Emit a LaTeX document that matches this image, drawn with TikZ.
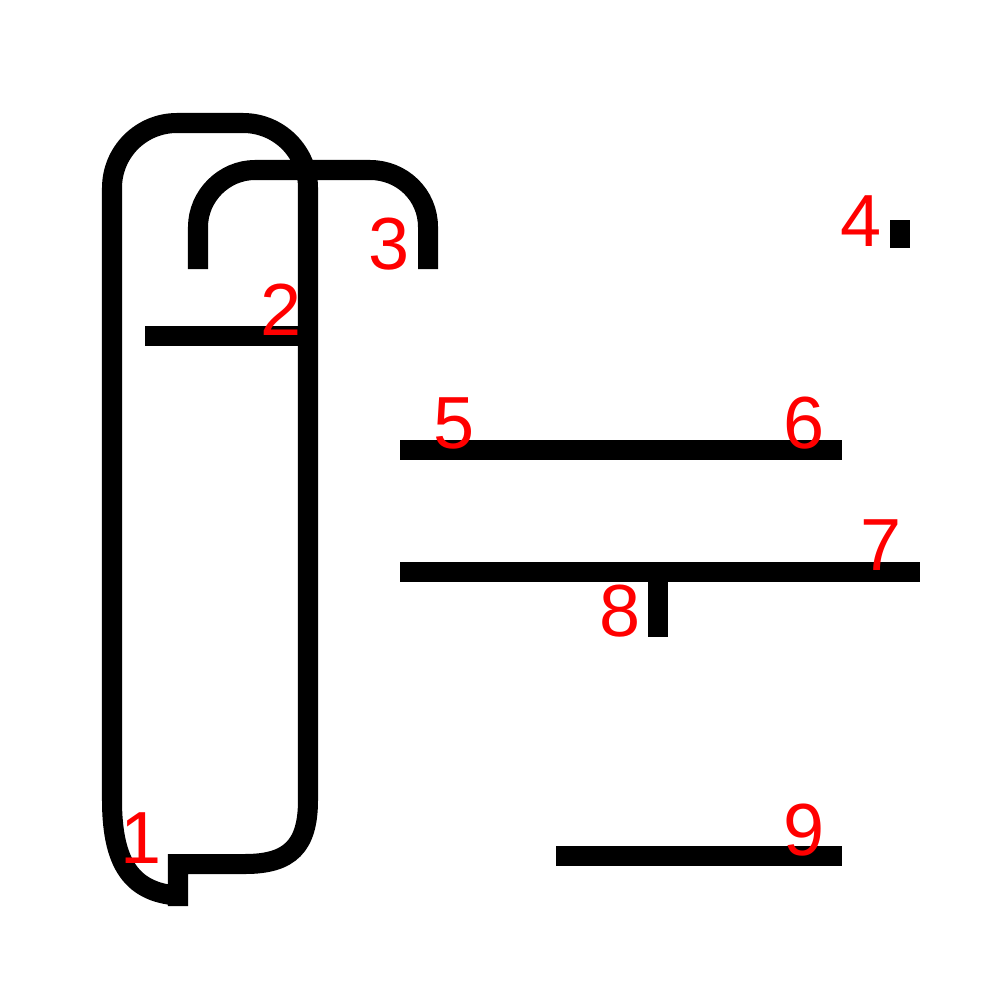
\documentclass[tikz,border=0pt]{standalone}
\usepackage{fontspec}
\setmainfont{Liberation Sans}
\usepackage{tikz}

\begin{document}
\begin{tikzpicture}[
    x=0.01cm, y=-0.01cm,
    stroke/.style={draw, line width=0.2cm, black},
    num/.style={text=red, inner sep=0pt, font=\fontsize{21}{21}\selectfont}
]
    \useasboundingbox (0,0) rectangle (1000,1000);

    % Strokes
    \draw[stroke] (188,896) .. controls (136,896) and (112,870) .. (112,800)
        -- (112,188) .. controls (112,152) and (141,123) .. (177,123)
        -- (243,123) .. controls (279,123) and (308,152) .. (308,188)
        -- (308,800) .. controls (308,846) and (290,864) .. (245,864)
        -- (178,864) -- (178,906);
    \draw[stroke] (145,336) -- (300,336);
    \draw[stroke] (198,269) -- (198,227) .. controls (198,196) and (224,170) .. (255,170)
        -- (370,170) .. controls (402,170) and (428,195) .. (428,227) -- (428,269);
    \draw[stroke] (900,220) -- (900,248);
    \draw[stroke] (400,450) -- (842,450);
    \draw[stroke] (400,572) -- (920,572);
    \draw[stroke] (658,582) -- (658,637);
    \draw[stroke] (556,856) -- (842,856);

    % Stroke numbers
    \node[num] (n1) at (141,838) {1};
    \node[num] (n2) at (281,310) {2};
    \node[num] (n3) at (389,244) {3};
    \node[num] (n4) at (861,221) {4};
    \node[num] (n5) at (454,423) {5};
    \node[num] (n6) at (804,423) {6};
    \node[num] (n7) at (881,545) {7};
    \node[num] (n8) at (620,611) {8};
    \node[num] (n9) at (804,830) {9};
\end{tikzpicture}
\end{document}
